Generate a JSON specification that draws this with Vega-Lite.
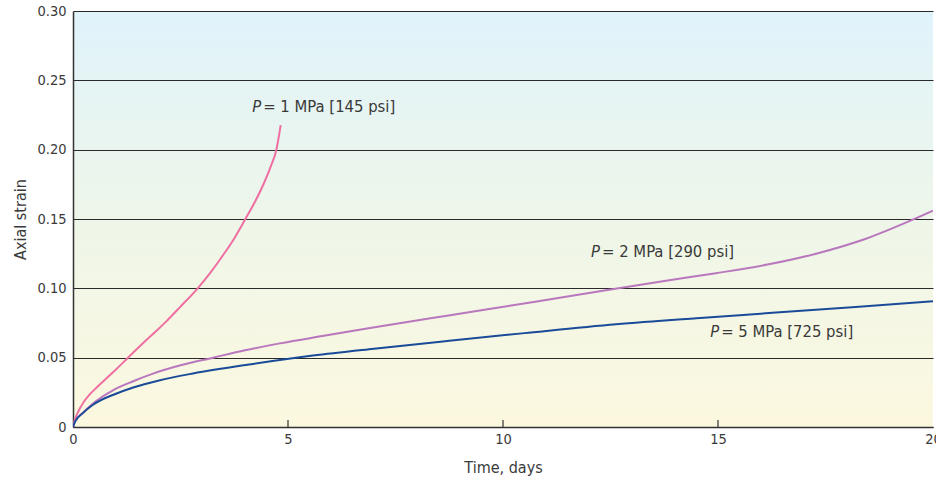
{
  "$schema": "https://vega.github.io/schema/vega-lite/v6.json",
  "autosize": "none",
  "width": 860,
  "height": 416,
  "padding": {"left": 73, "top": 11, "right": 3, "bottom": 51},
  "background": "white",
  "view": {"stroke": null, "fill": {"gradient": "linear", "x1": 0, "y1": 0, "x2": 0, "y2": 1, "stops": [{"offset": 0, "color": "#e0f3fb"}, {"offset": 0.5, "color": "#eef6e9"}, {"offset": 1, "color": "#fcf8df"}]}},
  "config": {
    "font": "DejaVu Sans Condensed",
    "axis": {"labelFont": "DejaVu Sans Condensed", "titleFont": "DejaVu Sans Condensed", "labelColor": "#3a3a3a", "titleColor": "#3a3a3a", "labelFontSize": 14.5, "titleFontSize": 16, "titleFontWeight": "normal"}
  },
  "datasets": {
    "curves": [
      {"series": "1 MPa", "t": 0, "strain": 0},
      {"series": "1 MPa", "t": 0.04, "strain": 0.005},
      {"series": "1 MPa", "t": 0.12, "strain": 0.011},
      {"series": "1 MPa", "t": 0.25, "strain": 0.018},
      {"series": "1 MPa", "t": 0.39, "strain": 0.0235},
      {"series": "1 MPa", "t": 0.55, "strain": 0.0285},
      {"series": "1 MPa", "t": 0.773, "strain": 0.035},
      {"series": "1 MPa", "t": 1.0, "strain": 0.0415},
      {"series": "1 MPa", "t": 1.28, "strain": 0.05},
      {"series": "1 MPa", "t": 1.7, "strain": 0.0625},
      {"series": "1 MPa", "t": 1.98, "strain": 0.0705},
      {"series": "1 MPa", "t": 2.17, "strain": 0.0762},
      {"series": "1 MPa", "t": 2.5, "strain": 0.0868},
      {"series": "1 MPa", "t": 2.9, "strain": 0.1},
      {"series": "1 MPa", "t": 3.2, "strain": 0.1115},
      {"series": "1 MPa", "t": 3.48, "strain": 0.1235},
      {"series": "1 MPa", "t": 3.75, "strain": 0.136},
      {"series": "1 MPa", "t": 4.01, "strain": 0.15},
      {"series": "1 MPa", "t": 4.25, "strain": 0.1635},
      {"series": "1 MPa", "t": 4.45, "strain": 0.1765},
      {"series": "1 MPa", "t": 4.6, "strain": 0.188},
      {"series": "1 MPa", "t": 4.73, "strain": 0.2},
      {"series": "1 MPa", "t": 4.83, "strain": 0.2177},
      {"series": "2 MPa", "t": 0, "strain": 0},
      {"series": "2 MPa", "t": 0.05, "strain": 0.004},
      {"series": "2 MPa", "t": 0.23, "strain": 0.0103},
      {"series": "2 MPa", "t": 0.465, "strain": 0.017},
      {"series": "2 MPa", "t": 0.93, "strain": 0.0265},
      {"series": "2 MPa", "t": 1.4, "strain": 0.033},
      {"series": "2 MPa", "t": 1.86, "strain": 0.0385},
      {"series": "2 MPa", "t": 2.5, "strain": 0.0445},
      {"series": "2 MPa", "t": 3.26, "strain": 0.05},
      {"series": "2 MPa", "t": 4.0, "strain": 0.0553},
      {"series": "2 MPa", "t": 4.81, "strain": 0.0603},
      {"series": "2 MPa", "t": 5.8, "strain": 0.0656},
      {"series": "2 MPa", "t": 6.8, "strain": 0.0708},
      {"series": "2 MPa", "t": 8.77, "strain": 0.0806},
      {"series": "2 MPa", "t": 10.75, "strain": 0.0903},
      {"series": "2 MPa", "t": 12.72, "strain": 0.1002},
      {"series": "2 MPa", "t": 13.79, "strain": 0.1055},
      {"series": "2 MPa", "t": 14.95, "strain": 0.1109},
      {"series": "2 MPa", "t": 16.12, "strain": 0.117},
      {"series": "2 MPa", "t": 17.28, "strain": 0.125},
      {"series": "2 MPa", "t": 18.44, "strain": 0.1358},
      {"series": "2 MPa", "t": 19.53, "strain": 0.1495},
      {"series": "2 MPa", "t": 20, "strain": 0.156},
      {"series": "5 MPa", "t": 0, "strain": 0},
      {"series": "5 MPa", "t": 0.05, "strain": 0.004},
      {"series": "5 MPa", "t": 0.23, "strain": 0.01},
      {"series": "5 MPa", "t": 0.465, "strain": 0.016},
      {"series": "5 MPa", "t": 1.0, "strain": 0.024},
      {"series": "5 MPa", "t": 1.4, "strain": 0.0285},
      {"series": "5 MPa", "t": 2.0, "strain": 0.0336},
      {"series": "5 MPa", "t": 2.79, "strain": 0.0386},
      {"series": "5 MPa", "t": 4.19, "strain": 0.0455},
      {"series": "5 MPa", "t": 5.58, "strain": 0.0515},
      {"series": "5 MPa", "t": 7.0, "strain": 0.0565},
      {"series": "5 MPa", "t": 8.75, "strain": 0.0622},
      {"series": "5 MPa", "t": 10.5, "strain": 0.0677},
      {"series": "5 MPa", "t": 12.63, "strain": 0.0741},
      {"series": "5 MPa", "t": 14.5, "strain": 0.0785},
      {"series": "5 MPa", "t": 16.35, "strain": 0.0825},
      {"series": "5 MPa", "t": 18.2, "strain": 0.0866},
      {"series": "5 MPa", "t": 20, "strain": 0.0907}
    ],
    "ticks": [
      {"t": 5, "y0": 0, "y1": 0.005},
      {"t": 10, "y0": 0, "y1": 0.005},
      {"t": 15, "y0": 0, "y1": 0.005}
    ],
    "labels": [
      {"p": "P", "rest": "= 1 MPa [145 psi]", "t": 4.4, "strain": 0.2307},
      {"p": "P", "rest": "= 2 MPa [290 psi]", "t": 12.28, "strain": 0.126},
      {"p": "P", "rest": "= 5 MPa [725 psi]", "t": 15.05, "strain": 0.0685}
    ]
  },
  "layer": [
    {
      "data": {"name": "ticks"},
      "mark": {"type": "rule", "color": "#333", "strokeWidth": 1.2},
      "encoding": {
        "x": {"field": "t", "type": "quantitative"},
        "y": {"field": "y0", "type": "quantitative"},
        "y2": {"field": "y1"}
      }
    },
    {
      "data": {"name": "curves"},
      "mark": {"type": "line", "interpolate": "monotone", "strokeWidth": 2, "clip": true},
      "encoding": {
        "x": {"field": "t", "type": "quantitative", "scale": {"domain": [0, 20], "nice": false},
          "axis": {"title": "Time, days", "values": [0, 5, 10, 15, 20], "grid": false, "domainColor": "#333", "domainWidth": 1.5, "ticks": false, "labelPadding": 5, "titleX": 430, "titleY": 45, "titleBaseline": "alphabetic", "labelFlush": false}},
        "y": {"field": "strain", "type": "quantitative", "scale": {"domain": [0, 0.3], "nice": false},
          "axis": {"title": "Axial strain", "values": [0, 0.05, 0.1, 0.15, 0.2, 0.25, 0.3], "labelExpr": "datum.value == 0 ? '0' : format(datum.value, '.2f')", "grid": true, "gridColor": "#2a2a2a", "gridWidth": 1, "gridOpacity": 1, "domainColor": "#333", "domainWidth": 1.5, "ticks": false, "labelPadding": 7, "titleX": -48, "titleY": 208, "titleBaseline": "alphabetic"}},
        "color": {"field": "series", "type": "nominal", "legend": null,
          "scale": {"domain": ["1 MPa", "2 MPa", "5 MPa"], "range": ["#ef6fa2", "#b977bd", "#1a4b98"]}}
      }
    },
    {
      "data": {"name": "labels"},
      "mark": {"type": "text", "align": "right", "baseline": "middle", "fontStyle": "italic", "fontSize": 16.5, "color": "#3a3a3a", "dx": -1},
      "encoding": {
        "x": {"field": "t", "type": "quantitative"},
        "y": {"field": "strain", "type": "quantitative"},
        "text": {"field": "p"}
      }
    },
    {
      "data": {"name": "labels"},
      "mark": {"type": "text", "align": "left", "baseline": "middle", "fontSize": 16.5, "color": "#3a3a3a", "dx": 1},
      "encoding": {
        "x": {"field": "t", "type": "quantitative"},
        "y": {"field": "strain", "type": "quantitative"},
        "text": {"field": "rest"}
      }
    }
  ]
}
